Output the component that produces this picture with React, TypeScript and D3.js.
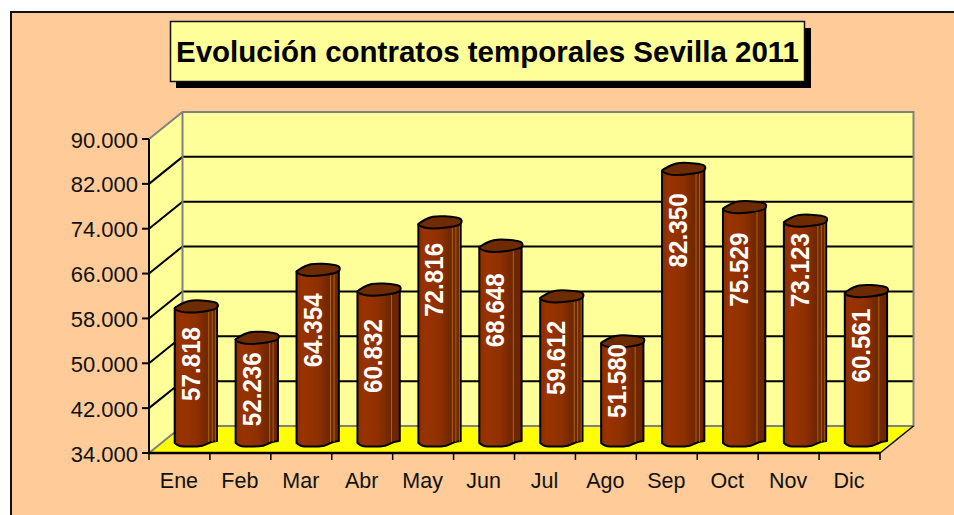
import React from "react";
import * as d3 from "d3";

const months = ["Ene", "Feb", "Mar", "Abr", "May", "Jun", "Jul", "Ago", "Sep", "Oct", "Nov", "Dic"];
const contracts = [57818, 52236, 64354, 60832, 72816, 68648, 59612, 51580, 82350, 75529, 73123, 60561];
const axisTicks = [34000, 42000, 50000, 58000, 66000, 74000, 82000, 90000];
const chartTitle = "Evolución contratos temporales Sevilla 2011";

const W = 954, H = 515;
const FONT = "'Liberation Sans', Arial, sans-serif";
const frontLeft = 149, frontRight = 880, frontBottom = 453, frontTop = 139;
const depthX = 33.5, depthY = -27;

// Placement tweaks for the value labels and the streaks drawn on the bars (presentation only).
const labelNudge = [0, -6, 3, 9, 0, 7, 4, -18, 4, 5, -8, -3];
const streakCount = [3, 2, 2, 1, 3, 1, 3, 1, 2, 1, 3, 1];

const capShape: [number, number][] = [
  [-21.5, 1.3], [-19, -0.7], [-7.2, -6], [16.2, -5.3], [21.2, -3.3], [20.8, 0.7], [6.2, 4.7], [-15.5, 4.7],
];
const footShape: [number, number][] = [
  [-21.5, 3.5], [-17.2, 6.2], [6.2, 6.2], [14.5, 2.8], [20.8, 1.5],
];

export default function App() {
  const x = d3.scaleBand<string>().domain(months).range([frontLeft, frontRight]);
  const y = d3.scaleLinear().domain([34000, 90000]).range([frontBottom, frontTop]);
  const fmt = d3.formatLocale({ decimal: ",", thousands: ".", grouping: [3], currency: ["", ""] }).format(",d");
  const capLine = d3.line().curve(d3.curveCatmullRomClosed.alpha(0.5));
  const footLine = d3.line().curve(d3.curveCatmullRom.alpha(0.5));
  const backLeft = frontLeft + depthX, backRight = frontRight + depthX;
  const backTop = frontTop + depthY, backBottom = frontBottom + depthY;
  const tickX = [...months.map((m) => x(m)!), frontRight];

  return (
    <svg width={W} height={H} viewBox={`0 0 ${W} ${H}`} style={{ position: "absolute", left: 0, top: 0, display: "block" }}>
      <defs>
        <linearGradient id="barFill" x1="0" x2="1" y1="0" y2="0">
          <stop offset="0" stopColor="#8a2e00" />
          <stop offset="0.15" stopColor="#993300" />
          <stop offset="0.5" stopColor="#8f3000" />
          <stop offset="0.75" stopColor="#712700" />
          <stop offset="1" stopColor="#6e2600" />
        </linearGradient>
      </defs>
      <rect x={0} y={0} width={W} height={H} fill="#fff" />
      <rect x={11} y={12} width={W + 20} height={H + 20} fill="#FFCC99" stroke="#111" strokeWidth={2} />

      {/* walls and floor */}
      <polygon points={`${frontLeft},${frontBottom} ${frontLeft},${frontTop} ${backLeft},${backTop} ${backLeft},${backBottom}`} fill="#FFFF99" />
      <rect x={backLeft} y={backTop} width={backRight - backLeft} height={backBottom - backTop} fill="#FFFF99" />
      <polygon points={`${frontLeft},${frontBottom} ${backLeft},${backBottom} ${backRight},${backBottom} ${frontRight},${frontBottom}`} fill="#FFFF00" />

      {axisTicks.slice(1, -1).map((t) => (
        <path key={t} d={`M${frontLeft},${y(t)} L${backLeft},${y(t) + depthY} L${backRight},${y(t) + depthY}`} fill="none" stroke="#000" strokeWidth={2} />
      ))}
      <path d={`M${frontLeft},${frontTop} L${backLeft},${backTop} L${backRight},${backTop} L${backRight},${backBottom} L${backLeft},${backBottom} L${frontLeft},${frontBottom}`} fill="none" stroke="#808080" strokeWidth={2} />
      <line x1={backLeft} x2={backLeft} y1={backTop} y2={backBottom} stroke="#808080" strokeWidth={2} />
      <line x1={frontRight} y1={frontBottom} x2={backRight} y2={backBottom} stroke="#000" strokeWidth={1.5} />

      {/* axes */}
      <line x1={frontLeft} x2={frontLeft} y1={frontTop} y2={frontBottom} stroke="#000" strokeWidth={2} />
      <line x1={frontLeft} x2={frontRight} y1={frontBottom} y2={frontBottom} stroke="#000" strokeWidth={2.5} />
      {axisTicks.map((t) => (
        <g key={t}>
          <line x1={frontLeft - 7} x2={frontLeft} y1={y(t)} y2={y(t)} stroke="#000" strokeWidth={2} />
          <text x={138} y={y(t) + 8.5} textAnchor="end" fontFamily={FONT} fontSize={22} fill="#111">{fmt(t)}</text>
        </g>
      ))}
      {tickX.map((tx) => (
        <line key={tx} x1={tx} x2={tx} y1={frontBottom} y2={frontBottom + 7} stroke="#000" strokeWidth={1.5} />
      ))}
      {months.map((m) => (
        <text key={m} x={x(m)! + x.bandwidth() / 2 - 0.5} y={488} textAnchor="middle" fontFamily={FONT} fontSize={21.5} fill="#111">{m}</text>
      ))}

      {/* bars */}
      {months.map((m, i) => {
        const cx = x(m)! + x.bandwidth() / 2 + depthX / 2;
        const baseY = frontBottom + depthY / 2;
        const topY = y(contracts[i]) + depthY / 2 + 1;
        const cap = capShape.map(([dx, dy]) => [cx + dx, topY + dy] as [number, number]);
        const foot = footShape.map(([dx, dy]) => [cx + dx, baseY + dy] as [number, number]);
        const body = `M${cap[0]} ${footLine(foot)!.replace(/^M/, "L")} L${cx + 20.8},${topY + 0.7} L${cx},${topY + 3} Z`;
        return (
          <g key={m}>
            <path d={body} fill="url(#barFill)" stroke="#000" strokeWidth={2} strokeLinejoin="round" />
            {d3.range(streakCount[i]).map((k) => (
              <line key={k} x1={cx + 12.5 + k * 3.5} x2={cx + 12.5 + k * 3.5} y1={topY + 3 - k} y2={baseY + 2.5}
                stroke="#b8741c" strokeWidth={1} opacity={0.8} />
            ))}
            <path d={capLine(cap)!} fill="#6e2b00" stroke="#000" strokeWidth={2} strokeLinejoin="round" />
            <text
              transform={`translate(${cx + 3.5},${topY + 57 + labelNudge[i]}) rotate(-90)`}
              textAnchor="middle" fontFamily={FONT} fontWeight={700} fontSize={25} fill="#fff"
              textLength={74} lengthAdjust="spacingAndGlyphs"
            >{fmt(contracts[i])}</text>
          </g>
        );
      })}

      {/* title */}
      <rect x={176} y={28} width={635} height={60} fill="#000" />
      <rect x={170.5} y={21.5} width={634} height={60} fill="#FFFF99" stroke="#111" strokeWidth={1.5} />
      <text x={176} y={62} fontFamily={FONT} fontWeight={700} fontSize={29.5} fill="#000">{chartTitle}</text>
    </svg>
  );
}
